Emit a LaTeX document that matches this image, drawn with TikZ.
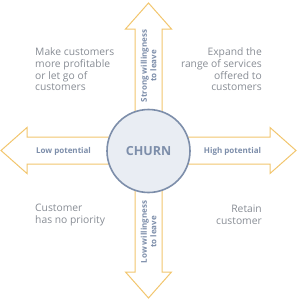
\documentclass[tikz,border=0pt]{standalone}
\usepackage{fontspec}
\setmainfont{Open Sans}
\usepackage{xcolor}
\usetikzlibrary{positioning,calc}
\definecolor{Cgold}{RGB}{242,198,110}
\definecolor{Cblue}{RGB}{125,142,170}
\definecolor{Cfill}{RGB}{233,237,243}
\definecolor{Cgray}{RGB}{135,140,148}
\tikzset{
  armline/.style={draw=Cgold, fill=white, line width=1pt, line join=miter},
  hub/.style={circle, draw=Cblue, fill=Cfill, line width=1.6pt, minimum size=83pt, inner sep=0pt,
    text=Cblue, font=\fontsize{12.5}{14}\selectfont\bfseries},
  armlabel/.style={text=Cblue, font=\fontsize{8}{9.5}\selectfont\bfseries, align=center, inner sep=0pt},
  quadtext/.style={text=Cgray, font=\fontsize{10.3}{11.7}\selectfont, inner sep=0pt}
}
\begin{document}
\begin{tikzpicture}[x=1pt, y=-1pt]
  \useasboundingbox (0,0) rectangle (297,300);
  % four block arrows out of the hub
  \foreach \a in {0,90,180,270}{
    \draw[armline, shift={(148.5,150.5)}, rotate=\a]
      (0,-13.5) -- (121.5,-13.5) -- (121.5,-23) -- (147.5,0) -- (121.5,23) -- (121.5,13.5) -- (0,13.5);
  }
  \node[hub] (churn) at (148.5,151) {CHURN};

  \node[armlabel] (lowpot) at (63.5,151) {Low potential};
  \node[armlabel] (highpot) at (232.5,151) {High potential};
  \node[armlabel, rotate=90] (strong) at (148.5,66) {Strong willingness\\to leave};
  \node[armlabel, rotate=90] (weak) at (148.5,232) {Low willingness\\to leave};

  \node[quadtext, anchor=west, align=left] (tl) at (35,69.5) {Make customers\\more profitable\\or let go of\\customers};
  \node[quadtext, anchor=east, align=right] (tr) at (262,69.5) {Expand the\\range of services\\offered to\\customers};
  \node[quadtext, anchor=west, align=left] (bl) at (35,215) {Customer\\has no priority};
  \node[quadtext, anchor=east, align=right] (br) at (262,215) {Retain\\customer};
\end{tikzpicture}
\end{document}
